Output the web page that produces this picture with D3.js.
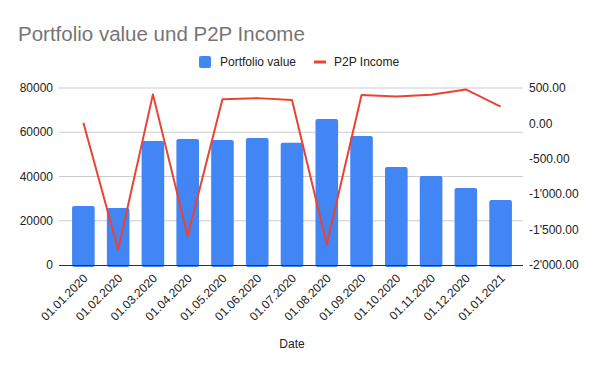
<!DOCTYPE html>
<html>
<head>
<meta charset="utf-8">
<script src="https://cdn.jsdelivr.net/npm/d3@7"></script>
<style>
  body { margin: 0; background: #fff; }
  svg { display: block; font-family: Arial, "Liberation Sans", sans-serif; }
</style>
</head>
<body>
<div id="chart"></div>
<script>
const dates = ["01.01.2020", "01.02.2020", "01.03.2020", "01.04.2020", "01.05.2020",
    "01.06.2020", "01.07.2020", "01.08.2020", "01.09.2020", "01.10.2020",
    "01.11.2020", "01.12.2020", "01.01.2021"];
const portfolio = [26700, 25800, 56000, 57000, 56500, 57400, 55300, 66000, 58300, 44300, 40200, 34800, 29400];
const income = [10, -1780, 410, -1590, 340, 357, 330, -1710, 400, 381, 405, 480, 236];
const leftTicks = [0, 20000, 40000, 60000, 80000];
const rightTicks = [-2000, -1500, -1000, -500, 0, 500];

const W = 600, H = 371;
const plot = {left: 59, right: 523, top: 88, bottom: 265};

const svg = d3.select("#chart").append("svg")
    .attr("width", W).attr("height", H);

const x = d3.scaleBand()
    .domain(dates)
    .range([66, 518])
    .paddingInner(0.35)
    .paddingOuter(0.175);

const yL = d3.scaleLinear().domain([0, 80000]).range([plot.bottom, plot.top]);
const yR = d3.scaleLinear().domain([-2000, 500]).range([plot.bottom, plot.top]);

const fmtR = d3.formatLocale({
    decimal: ".", thousands: "'", grouping: [3], currency: ["", ""], minus: "-"
}).format(",.2f");

// title
svg.append("text")
    .attr("x", 18).attr("y", 41)
    .attr("font-size", "20.5px")
    .attr("fill", "#757575")
    .text("Portfolio value und P2P Income");

// legend
const leg = svg.append("g");
leg.append("rect")
    .attr("x", 199).attr("y", 56).attr("width", 12).attr("height", 12)
    .attr("rx", 2).attr("fill", "#4285f4");
leg.append("text")
    .attr("x", 220).attr("y", 66).attr("font-size", "12px").attr("fill", "#222")
    .text("Portfolio value");
leg.append("line")
    .attr("x1", 314).attr("x2", 326).attr("y1", 62).attr("y2", 62)
    .attr("stroke", "#ea4335").attr("stroke-width", 3);
leg.append("text")
    .attr("x", 334).attr("y", 66).attr("font-size", "12px").attr("fill", "#222")
    .text("P2P Income");

// gridlines
svg.append("g")
    .selectAll("line")
    .data(leftTicks.filter(d => d > 0))
    .enter()
    .append("line")
    .attr("x1", plot.left).attr("x2", plot.right)
    .attr("y1", d => yL(d)).attr("y2", d => yL(d))
    .attr("stroke", "#cccccc").attr("stroke-width", 1);

// left axis labels
svg.append("g")
    .selectAll("text")
    .data(leftTicks)
    .enter()
    .append("text")
    .attr("x", 53).attr("y", d => yL(d))
    .attr("dy", "0.35em")
    .attr("text-anchor", "end")
    .attr("font-size", "12px").attr("fill", "#222")
    .text(d => d);

// right axis labels
svg.append("g")
    .selectAll("text")
    .data(rightTicks)
    .enter()
    .append("text")
    .attr("x", 529).attr("y", d => yR(d))
    .attr("dy", "0.35em")
    .attr("font-size", "12px").attr("fill", "#222")
    .text(d => fmtR(d));

// bars
svg.append("g")
    .selectAll("rect")
    .data(portfolio)
    .enter()
    .append("rect")
    .attr("x", (d, i) => x(dates[i]))
    .attr("y", d => yL(d))
    .attr("width", x.bandwidth())
    .attr("height", d => yL(0) - yL(d) + 2)
    .attr("rx", 2)
    .attr("fill", "#4285f4");

// baseline
svg.append("line")
    .attr("x1", plot.left).attr("x2", plot.right)
    .attr("y1", plot.bottom + 0.5).attr("y2", plot.bottom + 0.5)
    .attr("stroke", "#333").attr("stroke-width", 1);

// income line
const line = d3.line()
    .x((d, i) => x(dates[i]) + x.bandwidth() / 2)
    .y(d => yR(d));

svg.append("path")
    .datum(income)
    .attr("d", line)
    .attr("fill", "none")
    .attr("stroke", "#ea4335")
    .attr("stroke-width", 2)
    .attr("stroke-linejoin", "round");

// x labels
svg.append("g")
    .selectAll("text")
    .data(dates)
    .enter()
    .append("text")
    .attr("transform", d => `translate(${x(d) + x.bandwidth() / 2 + 5},${279}) rotate(-45)`)
    .attr("text-anchor", "end")
    .attr("font-size", "12px").attr("fill", "#222")
    .text(d => d);

// x axis title
svg.append("text")
    .attr("x", 292).attr("y", 348)
    .attr("text-anchor", "middle")
    .attr("font-size", "12px").attr("fill", "#222")
    .text("Date");
</script>
</body>
</html>
